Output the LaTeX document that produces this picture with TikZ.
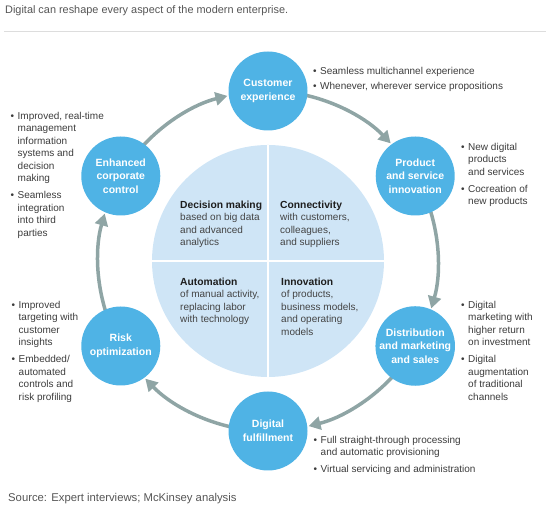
\documentclass[tikz,border=0pt]{standalone}
\usepackage{fontspec}
\setmainfont{Liberation Sans}
\usetikzlibrary{arrows.meta}
\definecolor{nodeblue}{HTML}{4FB3E5}
\definecolor{coreblue}{HTML}{CFE5F6}
\definecolor{arrowgray}{HTML}{8FA5A5}
\definecolor{textgray}{HTML}{3C3C3C}
\definecolor{bodygray}{HTML}{444444}
\definecolor{headdark}{HTML}{1E1E1E}
\definecolor{titlegray}{HTML}{555555}
\definecolor{rulegray}{HTML}{DDDDDD}
\newcommand{\blist}[1]{\begin{tabular}[t]{@{}l@{\hspace{3.5pt}}l@{}}#1\end{tabular}}
\newcommand{\cblock}[2]{\begin{tabular}[t]{@{}l@{}}\textcolor{headdark}{\fontsize{10.3}{12.5}\selectfont\bfseries #1}\\#2\end{tabular}}
\begin{document}
\begin{tikzpicture}[x=1pt,y=1pt,
  stage/.style={circle, fill=nodeblue, minimum size=79pt, inner sep=0pt, align=center,
    text=white, font=\fontsize{10.5}{13.5}\selectfont\bfseries},
  txt/.style={inner sep=0pt, anchor=base west, text=textgray, font=\fontsize{10}{12.5}\selectfont},
  ctxt/.style={txt, text=bodygray},
  ringarrow/.style={draw=arrowgray, line width=3.5pt, -{Triangle[length=12pt,width=13pt]}},
  divider/.style={draw=white, line width=1.2pt}
]
\useasboundingbox (0,0) rectangle (550,521);
\coordinate (C) at (268,260);

% title, rule, source
\node[anchor=base west, inner sep=0pt, text=titlegray, font=\fontsize{10.9}{13}\selectfont] (title) at (5,507)
  {Digital can reshape every aspect of the modern enterprise.};
\draw[rulegray, line width=0.8pt] (4,490) -- (546,490);
\node[anchor=base west, inner sep=0pt, text=titlegray, font=\fontsize{11.3}{13}\selectfont] (source) at (8,19)
  {Source: Expert interviews; McKinsey analysis};

% core circle
\fill[coreblue] (C) circle[radius=116pt];
\coordinate (ctop) at ([yshift=116pt]C);
\coordinate (cbot) at ([yshift=-116pt]C);
\coordinate (cleft) at ([xshift=-116pt]C);
\coordinate (cright) at ([xshift=116pt]C);
\draw[divider] (ctop) -- (cbot);
\draw[divider] (cleft) -- (cright);

\node[ctxt] (dm) at (180,312.5) {\cblock{Decision making}{based on big data\\and advanced\\analytics}};
\node[ctxt] (cn) at (280,312.5) {\cblock{Connectivity}{with customers,\\colleagues,\\and suppliers}};
\node[ctxt] (au) at (180,235.5) {\cblock{Automation}{of manual activity,\\replacing labor\\with technology}};
\node[ctxt] (in) at (281,235.5) {\cblock{Innovation}{of products,\\business models,\\and operating\\models}};

% ring arrows
\foreach \a in {150,90,30,-30,-90,-150}{
  \pgfmathsetmacro{\sa}{\a-12}
  \pgfmathsetmacro{\ea}{\a-60+13.8}
  \draw[ringarrow] ([shift={(\sa:170pt)}]C) arc[start angle=\sa, end angle=\ea, radius=170pt];
}

% stage nodes
\node[stage] (ce) at ([shift={(90:170pt)}]C) {Customer\\experience};
\node[stage] (ps) at ([shift={(30:170pt)}]C) {Product\\and service\\innovation};
\node[stage] (ds) at ([shift={(-30:170pt)}]C) {Distribution\\and marketing\\and sales};
\node[stage] (df) at ([shift={(-90:170pt)}]C) {Digital\\fulfillment};
\node[stage] (ro) at ([shift={(-150:170pt)}]C) {Risk\\optimization};
\node[stage] (ec) at ([shift={(150:170pt)}]C) {Enhanced\\corporate\\control};

% bullet lists
\node[txt] (ceb) at (313,446.5) {\blist{\textbullet & Seamless multichannel experience\\[2.5pt]
  \textbullet & Whenever, wherever service propositions}};
\node[txt] (psb) at (461,370.5) {\blist{\textbullet & New digital\\ & products\\ & and services\\[4.5pt]
  \textbullet & Cocreation of\\ & new products}};
\node[txt] (dsb) at (461,212.5) {\blist{\textbullet & Digital\\ & marketing with\\ & higher return\\ & on investment\\[4.5pt]
  \textbullet & Digital\\ & augmentation\\ & of traditional\\ & channels}};
\node[txt] (dfb) at (313.5,77.5) {\blist{\textbullet & Full straight-through processing\\ & and automatic provisioning\\[4.5pt]
  \textbullet & Virtual servicing and administration}};
\node[txt] (rob) at (11.5,212.5) {\blist{\textbullet & Improved\\ & targeting with\\ & customer\\ & insights\\[4.5pt]
  \textbullet & Embedded/\\ & automated\\ & controls and\\ & risk profiling}};
\node[txt] (ecb) at (10.5,401.5) {\blist{\textbullet & Improved, real-time\\ & management\\ & information\\ & systems and\\ & decision\\ & making\\[4.5pt]
  \textbullet & Seamless\\ & integration\\ & into third\\ & parties}};
\end{tikzpicture}
\end{document}
